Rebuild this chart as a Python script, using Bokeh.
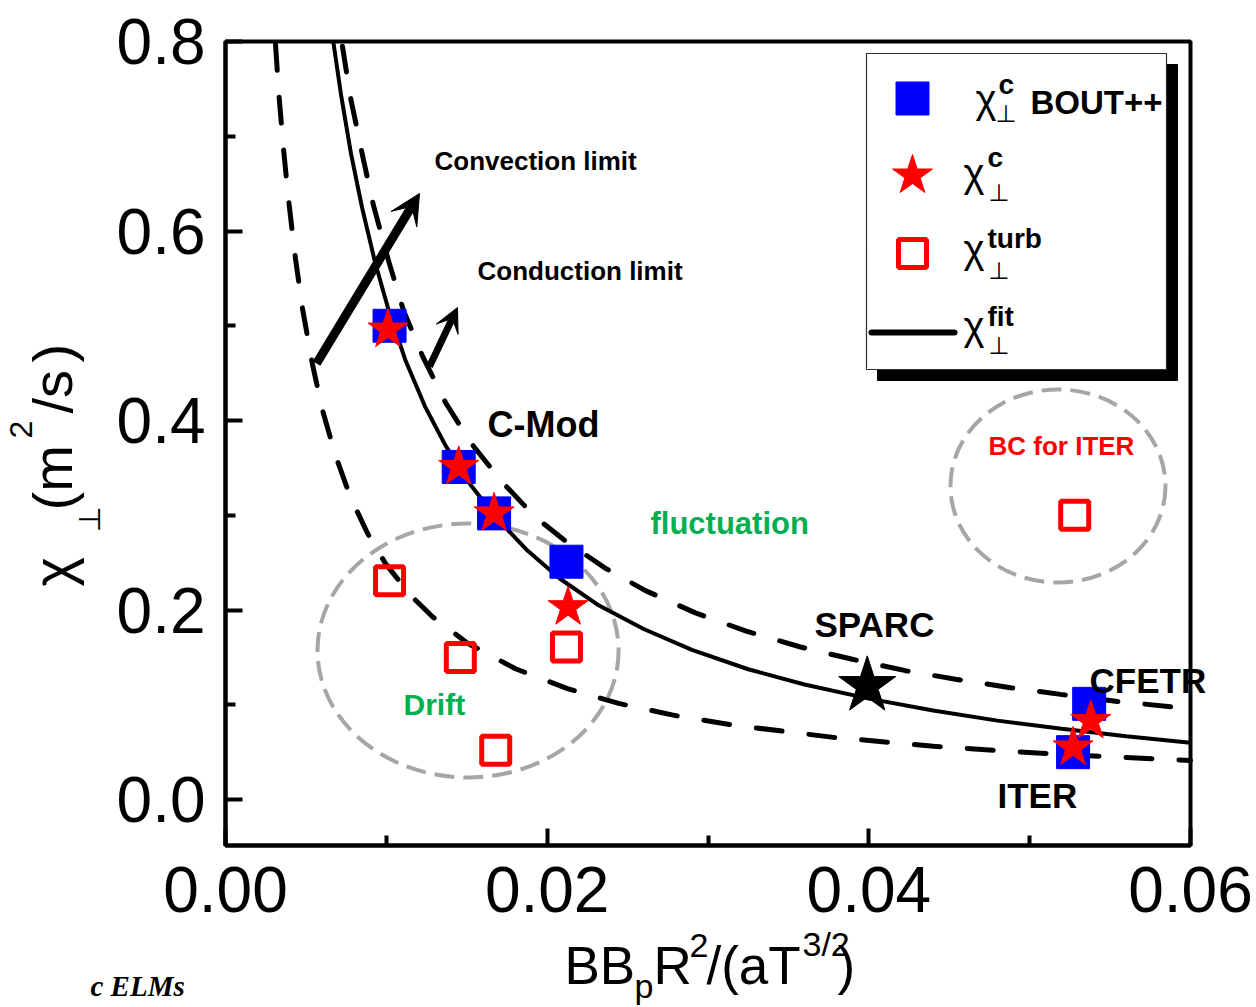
import math
from bokeh.plotting import figure
from bokeh.models import Range1d, FixedTicker, NumeralTickFormatter, Label, Arrow, VeeHead, BoxAnnotation
from bokeh.embed import file_html
from bokeh.resources import INLINE

# ---------------- data ----------------
x_lim = (0.0, 0.06)
y_lim = (-0.0485, 0.8)
x_ticks = [0.0, 0.02, 0.04, 0.06]
x_minor = [0.01, 0.03, 0.05]
y_ticks = [0.0, 0.2, 0.4, 0.6, 0.8]
y_minor = [0.1, 0.3, 0.5, 0.7]

# chi_perp^c from BOUT++ (blue squares)
bout_x = [0.0102, 0.0145, 0.0167, 0.0212, 0.0537, 0.0527]
bout_y = [0.500, 0.351, 0.302, 0.251, 0.101, 0.050]
# chi_perp^c (red stars)
chic_x = [0.0101, 0.0145, 0.0167, 0.0213, 0.0538, 0.0527]
chic_y = [0.496, 0.351, 0.302, 0.203, 0.083, 0.055]
# chi_perp^turb (open red squares)
turb_x = [0.0102, 0.0146, 0.0168, 0.0212, 0.0528]
turb_y = [0.231, 0.150, 0.052, 0.161, 0.300]
# SPARC (black star)
sparc_x = [0.0399]
sparc_y = [0.120]

# fitted chi_perp (solid)
fit_x = [0.0067, 0.0072, 0.0078, 0.0085, 0.0093, 0.0102, 0.0112, 0.0124, 0.0137, 0.0152,
         0.0168, 0.0187, 0.0208, 0.0232, 0.0260, 0.0290, 0.0325, 0.0360, 0.0400, 0.0440,
         0.0480, 0.0520, 0.0560, 0.0600]
fit_y = [0.800, 0.742, 0.682, 0.624, 0.567, 0.513, 0.463, 0.415, 0.373, 0.333,
         0.298, 0.264, 0.233, 0.205, 0.180, 0.158, 0.1375, 0.1214, 0.1065, 0.0939,
         0.0833, 0.0746, 0.0668, 0.0600]
# upper dashed limit
up_x = [0.00727, 0.00777, 0.00858, 0.00920, 0.01013, 0.01107, 0.01225, 0.01368, 0.01523,
        0.01710, 0.01927, 0.02120, 0.02363, 0.02611, 0.02922, 0.03233, 0.03575, 0.03898,
        0.04228, 0.04539, 0.04881, 0.05192, 0.05546, 0.0600]
up_y = [0.795, 0.741, 0.675, 0.627, 0.569, 0.516, 0.468, 0.419, 0.377,
        0.337, 0.298, 0.272, 0.244, 0.2205, 0.197, 0.178, 0.161, 0.148,
        0.136, 0.127, 0.118, 0.111, 0.1035, 0.096]
# lower dashed limit
lo_x = [0.00311, 0.00330, 0.00361, 0.00392, 0.00435, 0.00479, 0.00541, 0.00603, 0.00684,
        0.00777, 0.00883, 0.00995, 0.01150, 0.01287, 0.01505, 0.01803, 0.02126, 0.02444,
        0.02798, 0.03159, 0.03780, 0.04402, 0.04819, 0.05273, 0.05857, 0.0600]
lo_y = [0.797, 0.748, 0.686, 0.633, 0.571, 0.518, 0.459, 0.411, 0.363,
        0.319, 0.281, 0.249, 0.2157, 0.193, 0.165, 0.138, 0.117, 0.1015,
        0.0886, 0.0785, 0.0656, 0.0563, 0.0515, 0.0470, 0.0424, 0.0413]

# regions (gray dashed ellipses): centre x, centre y, width, height
reg_x = [0.01508, 0.05176]
reg_y = [0.1573, 0.3309]
reg_w = [0.01872, 0.01337]
reg_h = [0.268, 0.2037]

# ---------------- layout helpers (page pixel -> data) ----------------
W, H = 1256, 1007
FL, FR, FT, FB = 225, 1190, 41, 845   # pixel box of the axes frame


def X(px):
    return x_lim[0] + (px - FL) / (FR - FL) * (x_lim[1] - x_lim[0])


def Y(py):
    return y_lim[1] - (py - FT) / (FB - FT) * (y_lim[1] - y_lim[0])


p = figure(width=W, height=H, output_backend="svg", toolbar_location=None,
           x_range=Range1d(X(0), X(W)), y_range=Range1d(Y(H), Y(0)),
           min_border=0, min_border_left=0, min_border_right=0,
           min_border_top=0, min_border_bottom=0)
p.grid.visible = False
p.outline_line_color = None
p.background_fill_color = "white"
p.border_fill_color = "white"

p.xaxis.ticker = FixedTicker(ticks=x_ticks, minor_ticks=x_minor)
p.yaxis.ticker = FixedTicker(ticks=y_ticks, minor_ticks=y_minor)
p.xaxis.formatter = NumeralTickFormatter(format="0.00")
p.yaxis.formatter = NumeralTickFormatter(format="0.0")
p.xaxis.fixed_location = y_lim[0]
p.yaxis.fixed_location = x_lim[0]
p.xaxis.bounds = x_lim
p.yaxis.bounds = y_lim
for ax in (p.xaxis[0], p.yaxis[0]):
    ax.axis_line_width = 4
    ax.axis_line_color = "black"
    ax.major_tick_in = 17
    ax.major_tick_out = 0
    ax.major_tick_line_width = 4
    ax.minor_tick_in = 10
    ax.minor_tick_out = 0
    ax.minor_tick_line_width = 4
    ax.major_label_text_font = "Liberation Sans"
    ax.major_label_text_font_size = "64px"
    ax.major_label_text_color = "black"
p.xaxis.major_label_standoff = 21
p.yaxis.major_label_standoff = 20

# axes frame (top / right edges)
p.add_layout(BoxAnnotation(left=x_lim[0], right=x_lim[1], bottom=y_lim[0], top=y_lim[1],
                           fill_alpha=0, line_color="black", line_alpha=1, line_width=4))

# legend frame (underlay so legend samples draw on top)
p.add_layout(BoxAnnotation(left=X(877), right=X(1177), top=Y(64), bottom=Y(380),
                           fill_color="black", fill_alpha=1, line_color="black", line_alpha=1,
                           level="underlay"))
p.add_layout(BoxAnnotation(left=X(866), right=X(1166), top=Y(53), bottom=Y(369),
                           fill_color="white", fill_alpha=1, line_color="#303030", line_alpha=1,
                           line_width=1.2, level="underlay"))

# regions
p.ellipse(x=reg_x, y=reg_y, width=reg_w, height=reg_h, fill_color=None,
          line_color="#A6A6A6", line_width=4, line_dash="20 9")

# curves
p.line(lo_x, lo_y, line_color="black", line_width=5, line_dash="26 27", line_cap="round")
p.line(up_x, up_y, line_color="black", line_width=5, line_dash="26 27", line_cap="round")
p.line(fit_x, fit_y, line_color="black", line_width=4)

# markers
p.scatter(bout_x, bout_y, marker="square", size=33, fill_color="blue", line_color="blue")
p.scatter(turb_x, turb_y, marker="square", size=28, fill_color=None, line_color="red", line_width=5)
p.scatter(chic_x, chic_y, marker="star", size=42, fill_color="red", line_color="red")
p.scatter(sparc_x, sparc_y, marker="star", size=60, fill_color="black", line_color="black")

# legend samples
p.scatter([X(912)], [Y(98)], marker="square", size=33, fill_color="blue", line_color="blue")
p.scatter([X(912)], [Y(175)], marker="star", size=42, fill_color="red", line_color="red")
p.scatter([X(912)], [Y(253)], marker="square", size=28, fill_color=None, line_color="red", line_width=5)
p.line([X(871), X(954)], [Y(332), Y(332)], line_color="black", line_width=6, line_cap="round")

# arrows
p.add_layout(Arrow(x_start=X(316), y_start=Y(363), x_end=X(419), y_end=Y(193),
                   line_width=9, line_color="black",
                   end=VeeHead(size=30, fill_color="black", line_color="black", line_width=1)))
p.add_layout(Arrow(x_start=X(429), y_start=Y(366), x_end=X(457), y_end=Y(307),
                   line_width=7, line_color="black",
                   end=VeeHead(size=24, fill_color="black", line_color="black", line_width=1)))

BASE_SHIFT = 0.38   # Bokeh draws an "alphabetic" label this far (x font size) below its anchor


def lab(text, px, py, size, style="normal", color="black", font="Liberation Sans", angle=0.0):
    d = BASE_SHIFT * size
    ax_ = px - d * math.sin(angle)
    ay_ = py - d * math.cos(angle)
    p.add_layout(Label(x=X(ax_), y=Y(ay_), text=text, text_font=font, text_font_size=f"{size}px",
                       text_font_style=style, text_color=color, text_align="left",
                       text_baseline="alphabetic", angle=angle))


# annotations in plot
lab("Convection limit", 434, 170, 26, "bold")
lab("Conduction limit", 477, 280, 26, "bold")
lab("C-Mod", 487, 438, 36, "bold")
lab("fluctuation", 650, 535, 31, "bold", "#00B050")
lab("SPARC", 814, 637, 35, "bold")
lab("CFETR", 1089, 693, 35, "bold")
lab("ITER", 997, 808, 35, "bold")
lab("BC for ITER", 988, 455, 26, "bold", "red")
lab("Drift", 403, 715, 30, "bold", "#00B050")

# legend texts
legend_rows = [(975, 114, "c", 998, 95, 995, 123), (963, 188, "c", 987, 168, 988, 202),
               (963, 264, "turb", 987, 249, 988, 280), (963, 341, "fit", 987, 327, 988, 355)]
for cx, cb, sup, sx, sb, ux, ub in legend_rows:
    lab("χ", cx, cb, 40)
    lab(sup, sx, sb, 28, "bold")
    lab("⊥", ux, ub, 24, font="DejaVu Sans")
lab("BOUT++", 1030, 115, 33, "bold")

# axis titles
lab("BB", 564, 985, 53)
lab("p", 634, 998, 34)
lab("R", 653, 985, 53)
lab("2", 689, 958, 34)
lab("/(aT", 706, 985, 53)
lab("3/2", 802, 956, 34)
lab(")", 837, 985, 53)

rot = math.pi / 2
lab("χ", 73, 586, 56, angle=rot)
lab("⊥", 100, 532, 30, font="DejaVu Sans", angle=rot)
lab("(m", 73, 510, 56, angle=rot)
lab("2", 33, 438, 32, angle=rot)
lab("/s", 73, 413, 56, angle=rot)
lab(")", 73, 362, 56, angle=rot)

# caption fragment at the bottom of the picture
lab("c ELMs", 90, 997, 29, "bold italic", font="Liberation Serif")

open("out.html", "w").write(file_html(p, INLINE))
